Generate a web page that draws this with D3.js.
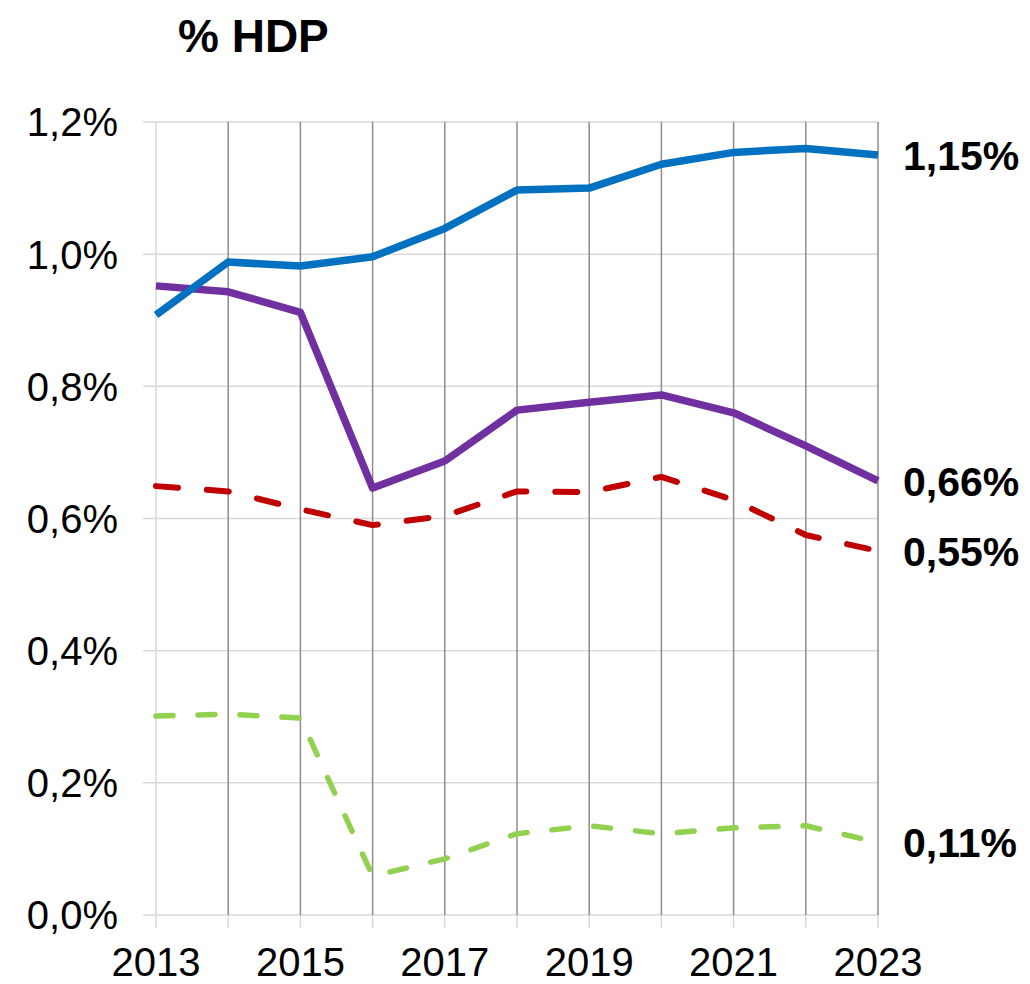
<!DOCTYPE html>
<html><head><meta charset="utf-8">
<script src="https://cdn.jsdelivr.net/npm/d3@7"></script>
<style>body{margin:0;background:#fff}svg{display:block;font-family:Arial,"Liberation Sans",sans-serif}</style>
</head><body>
<svg id="c" width="1030" height="984"></svg>
<script>
const years = [2013,2014,2015,2016,2017,2018,2019,2020,2021,2022,2023];
const blueValues   = [0.908,0.988,0.982,0.996,1.039,1.097,1.100,1.136,1.154,1.160,1.150];
const purpleValues = [0.952,0.943,0.912,0.646,0.687,0.764,0.776,0.787,0.760,0.710,0.657];
const redValues    = [0.649,0.641,0.614,0.590,0.604,0.641,0.640,0.663,0.628,0.575,0.551];
const greenValues  = [0.301,0.304,0.298,0.059,0.085,0.123,0.135,0.123,0.132,0.135,0.110];
const yTicks = [0,0.2,0.4,0.6,0.8,1.0,1.2];
const xTickLabels = [2013,2015,2017,2019,2021,2023];
const endLabels = ["1,15%","0,66%","0,55%","0,11%"];
const title = "% HDP";

const svg = d3.select("#c");
const x = d3.scaleLinear().domain([2013,2023]).range([156,878]);
const y = d3.scaleLinear().domain([0,1.2]).range([915,122]);

// horizontal gridlines
svg.append("g").selectAll("line").data(yTicks).join("line")
  .attr("x1",143).attr("x2",x(2023)).attr("y1",d=>y(d)).attr("y2",d=>y(d))
  .attr("stroke","#d9d9d9").attr("stroke-width",1.5);
// tick marks below axis
svg.append("g").selectAll("line").data(years).join("line")
  .attr("x1",d=>x(d)).attr("x2",d=>x(d)).attr("y1",y(0)).attr("y2",y(0)+13)
  .attr("stroke","#d9d9d9").attr("stroke-width",1.5);
// vertical gridlines
svg.append("g").selectAll("line").data(years).join("line")
  .attr("x1",d=>x(d)).attr("x2",d=>x(d)).attr("y1",y(1.2)).attr("y2",y(0))
  .attr("stroke",d=>d===2013?"#d9d9d9":"#8c8c8c").attr("stroke-width",1.5);

// y labels
svg.append("g").selectAll("text").data(yTicks).join("text")
  .attr("x",118).attr("y",d=>y(d)).attr("dy","0.36em").attr("text-anchor","end")
  .attr("font-size",40).attr("fill","#000")
  .text(d=>d3.format(".1f")(d).replace(".",",")+"%");
// x labels
svg.append("g").selectAll("text").data(xTickLabels).join("text")
  .attr("x",d=>x(d)).attr("y",976).attr("text-anchor","middle")
  .attr("font-size",40).attr("fill","#000").text(d=>d);

// title
svg.append("text").attr("x",178).attr("y",52).attr("font-size",46).attr("font-weight","bold").text(title);

const line = d3.line().x((d,i)=>x(years[i])).y(d=>y(d));
const series = [
  {v:greenValues, c:"#92D050", w:5.5, dash:"17,25", cap:"round"},
  {v:redValues, c:"#C00000", w:6, dash:"22,29", cap:"round"},
  {v:purpleValues, c:"#7030A0", w:7.5, dash:null, cap:"butt"},
  {v:blueValues, c:"#0070C0", w:7.5, dash:null, cap:"butt"}
];
series.forEach(s=>{
  svg.append("path").attr("d",line(s.v)).attr("fill","none").attr("stroke",s.c)
    .attr("stroke-width",s.w).attr("stroke-linejoin","round").attr("stroke-linecap",s.cap)
    .attr("stroke-dasharray",s.dash);
});

// end labels
const endVals = [blueValues[10],purpleValues[10],redValues[10],greenValues[10]];
svg.append("g").selectAll("text").data(endLabels).join("text")
  .attr("x",903).attr("y",(d,i)=>y(endVals[i])).attr("dy","0.36em")
  .attr("font-size",41).attr("font-weight","bold").attr("fill","#000").text(d=>d);
</script>
</body></html>
